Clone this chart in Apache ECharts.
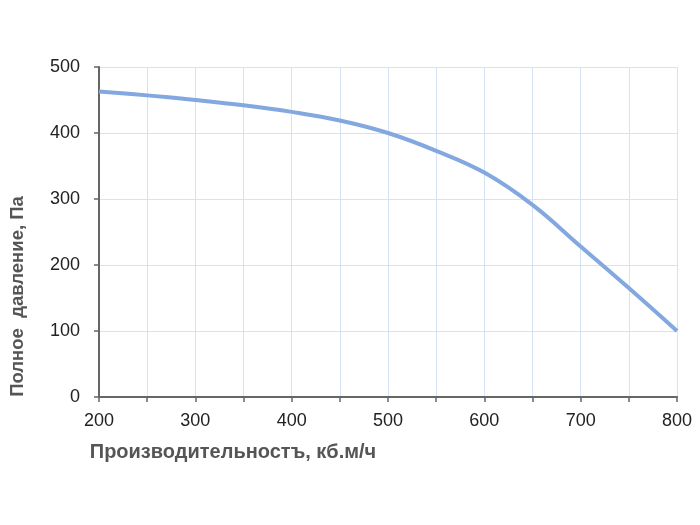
<!DOCTYPE html>
<html>
<head>
<meta charset="utf-8">
<script src="https://cdn.jsdelivr.net/npm/echarts@6/dist/echarts.min.js"></script>
<style>
  html, body { margin: 0; padding: 0; background: #fff; }
  #chart { width: 700px; height: 525px; }
</style>
</head>
<body>
<div id="chart"></div>
<script>
// расход, кб.м/ч
let flow = [200, 250, 300, 350, 400, 450, 500, 550, 600, 650, 700, 750, 800];
// полное давление, Па
let pressure = [463, 457, 450, 442, 432, 419, 400, 373, 340, 291, 228, 165, 100];

let xName = 'Производительностъ, кб.м/ч';
let yName = 'Полное  давление, Па';

let myChart = echarts.init(document.getElementById('chart'));

let points = flow.map(function (f, i) { return [f, pressure[i]]; });

let option = {
    animation: false,
    grid: { left: 97, right: 23, top: 67, bottom: 128 },
    xAxis: {
        type: 'value',
        min: 200,
        max: 800,
        interval: 50,
        name: xName,
        nameLocation: 'middle',
        nameGap: 45,
        nameTextStyle: {
            fontFamily: 'Liberation Sans',
            fontWeight: 'bold',
            fontSize: 20,
            color: '#555',
            padding: [0, 310, 0, 0]
        },
        axisLine: { lineStyle: { color: '#666', width: 2 } },
        axisTick: { show: true, length: 5, lineStyle: { color: '#666', width: 1.5 } },
        axisLabel: {
            fontFamily: 'Liberation Sans',
            fontSize: 18,
            color: '#222',
            margin: 15,
            formatter: function (v) { return v % 100 === 0 ? v : ''; }
        },
        splitLine: { show: true, lineStyle: { color: '#d6e3f5', width: 1 } }
    },
    yAxis: {
        type: 'value',
        min: 0,
        max: 500,
        interval: 100,
        name: yName,
        nameLocation: 'middle',
        nameGap: 72,
        nameRotate: 90,
        nameTextStyle: {
            fontFamily: 'Liberation Sans',
            fontWeight: 'bold',
            fontSize: 18.5,
            color: '#555',
            padding: [0, 129, 0, 0]
        },
        axisLine: { show: true, lineStyle: { color: '#666', width: 2 } },
        axisTick: { show: true, length: 5, lineStyle: { color: '#666', width: 1.5 } },
        axisLabel: {
            fontFamily: 'Liberation Sans',
            fontSize: 18,
            color: '#222',
            margin: 19
        },
        splitLine: { show: true, lineStyle: { color: '#d6e3f5', width: 1 } }
    },
    series: [
        {
            type: 'line',
            data: points,
            smooth: 0.4,
            showSymbol: false,
            lineStyle: { color: '#82a8df', width: 4 }
        }
    ]
};

myChart.setOption(option);
</script>
</body>
</html>
